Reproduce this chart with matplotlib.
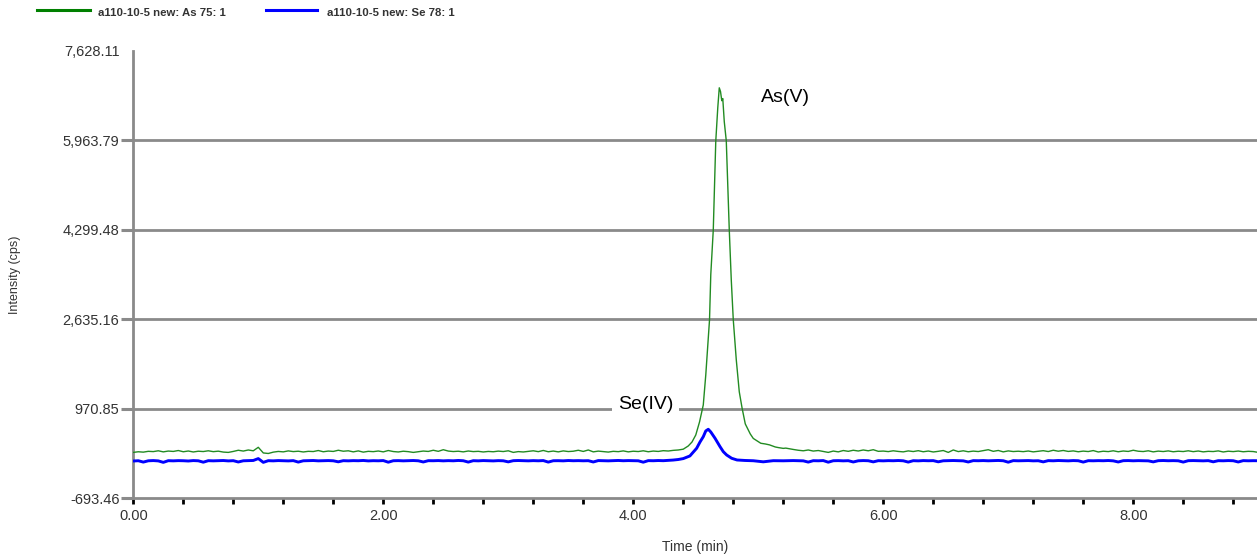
import numpy as np
import matplotlib
matplotlib.use("Agg")
import matplotlib.pyplot as plt
from matplotlib.lines import Line2D
from matplotlib.ticker import FixedLocator, MultipleLocator, FuncFormatter

plt.rcParams['font.family'] = ['Liberation Sans', 'DejaVu Sans']

# ---------------- data ----------------
series_names = ["a110-10-5 new: As 75: 1", "a110-10-5 new: Se 78: 1"]
peak_labels = ["As(V)", "Se(IV)"]
y_tick_values = [-693.46, 970.85, 2635.16, 4299.48, 5963.79, 7628.11]
y_tick_labels = ["-693.46", "970.85", "2,635.16", "4,299.48", "5,963.79", "7,628.11"]
x_label_values = [0.0, 2.0, 4.0, 6.0, 8.0]

# baseline sampling grids (min)
t_left = np.round(np.arange(0.0, 4.401, 0.04), 2)
t_right = np.round(np.arange(5.32, 9.001, 0.04), 2)

as_left = [160, 172, 165, 180, 175, 190, 170, 185, 178, 195,
           172, 186, 168, 182, 176, 190, 174, 183, 166, 160,
           178, 200, 185, 205, 190, 255, 150, 140, 165, 178,
           170, 188, 175, 182, 168, 180, 176, 195, 172, 185,
           178, 200, 182, 190, 170, 188, 165, 180, 174, 186,
           170, 195, 176, 168, 182, 174, 160, 172, 185, 178,
           200, 180, 210, 185, 176, 182, 170, 186, 175, 180,
           168, 178, 172, 184, 176, 190, 160, 175, 168, 180,
           190, 174, 196, 172, 185, 170, 188, 176, 182, 200,
           178, 205, 170, 184, 175, 166, 180, 174, 188, 170,
           182, 176, 190, 172, 185, 178, 192, 186, 198, 205,
           220]
as_peak_t = [4.44, 4.47, 4.50, 4.53, 4.56, 4.58, 4.61, 4.62, 4.64, 4.66,
             4.676, 4.688, 4.698, 4.708, 4.716, 4.728, 4.744, 4.768, 4.784, 4.80,
             4.824, 4.848, 4.87, 4.896, 4.936, 4.96, 4.992, 5.02, 5.056, 5.09,
             5.136, 5.16, 5.20, 5.22, 5.256, 5.28]
as_peak = [280, 354, 484, 726, 1042, 1600, 2627, 3465, 4297, 5950,
           6570, 6940, 6870, 6700, 6740, 6310, 5955, 4297, 3368, 2627,
           1883, 1287, 990, 690, 503, 420, 373, 330, 317, 300,
           261, 250, 235, 240, 224, 215]
as_right = [200, 190, 205, 185, 195, 178, 160, 185, 170, 195,
            180, 200, 186, 205, 190, 210, 180, 185, 175, 190,
            178, 170, 188, 176, 192, 172, 186, 168, 180, 195,
            160, 205, 175, 190, 172, 184, 176, 192, 210, 180,
            196, 170, 188, 176, 182, 174, 186, 170, 180, 192,
            176, 200, 182, 196, 178, 188, 172, 184, 176, 194,
            168, 182, 175, 190, 172, 186, 178, 200, 182, 176,
            190, 170, 184, 176, 188, 172, 182, 176, 190, 174,
            186, 170, 180, 176, 188, 168, 182, 175, 185, 172,
            180, 176, 160]

se_left = [0, 5, -20, 4, 8, 2, -25, 6, 3, 7,
           5, 0, 8, 4, -22, 6, 3, 5, 9, 2,
           6, -18, 4, 7, 10, 45, -25, 6, 3, 8,
           5, 2, 7, -20, 4, 6, 9, 3, 5, 8,
           4, -15, 6, 3, 7, 5, 10, 2, 6, 4,
           8, -22, 5, 7, 3, 6, 9, 4, -18, 6,
           5, 8, 3, 7, 4, 10, 5, -20, 6, 3,
           8, 5, 2, 7, 4, -16, 6, 9, 5, 3,
           7, 4, 8, -20, 5, 6, 3, 9, 5, 7,
           4, 6, -18, 8, 5, 3, 7, 10, 5, 8,
           6, 4, -22, 7, 5, 9, 6, 12, 18, 28,
           45]
se_peak_t = [4.453, 4.507, 4.534, 4.56, 4.58, 4.60, 4.62, 4.654, 4.694, 4.72,
             4.747, 4.787, 4.83, 4.894, 4.96, 5.04, 5.12, 5.20, 5.28]
se_peak = [94, 237, 354, 452, 559, 590, 540, 423, 267, 174,
           112, 51, 19, 10, 5, -15, 6, 4, 8]
se_right = [5, 3, -20, 6, 4, 8, -22, 5, 7, 3,
            6, -18, 4, 8, 5, -16, 6, 3, 7, 5,
            9, 4, -20, 6, 3, 8, 5, 7, -15, 4,
            6, 9, 5, 3, -18, 7, 5, 8, 4, 6,
            10, 5, -22, 7, 4, 6, 8, 3, 5, -16,
            7, 4, 9, 6, 3, 8, 5, -20, 6, 4,
            7, 5, 9, 3, -18, 6, 8, 4, 7, 5,
            3, -16, 6, 9, 5, 7, 4, -20, 6, 8,
            5, 3, 7, -15, 6, 4, 8, 5, -18, 7,
            4, 6, 5]

as_t = np.concatenate([t_left, as_peak_t, t_right])
as_y = np.concatenate([as_left, as_peak, as_right])
se_t = np.concatenate([t_left, se_peak_t, t_right])
se_y = np.concatenate([se_left, se_peak, se_right])

# ---------------- figure ----------------
W, H = 1257, 556
fig = plt.figure(figsize=(W / 100, H / 100), dpi=100)
ax = fig.add_axes([133.3 / W, 1 - 498.3 / H, (W - 133.3) / W, (498.3 - 50.8) / H])

green = '#228b22'
blue = '#0000ff'
grid_c = '#8a8a8a'
txt_c = '#333333'

ax.set_xlim(0, 8.99)
ax.set_ylim(y_tick_values[0], y_tick_values[-1])

for yv in y_tick_values[1:-1]:
    ax.axhline(yv, color=grid_c, lw=2.0, zorder=1)

ax.plot(se_t, se_y, color=blue, lw=2.1, zorder=3)
ax.plot(as_t, as_y, color=green, lw=1.0, zorder=4)

for s in ['top', 'right']:
    ax.spines[s].set_visible(False)
for s in ['left', 'bottom']:
    ax.spines[s].set_color(grid_c)
    ax.spines[s].set_linewidth(2.0)

ax.yaxis.set_major_locator(FixedLocator(y_tick_values))
ax.set_yticklabels(y_tick_labels)
ax.tick_params(axis='y', direction='out', length=9, width=2.2, color=grid_c,
               labelsize=10.5, labelcolor=txt_c, pad=1)
ax.yaxis.get_major_ticks()[-1].tick1line.set_visible(False)

ax.xaxis.set_major_locator(FixedLocator(x_label_values))
ax.xaxis.set_major_formatter(FuncFormatter(lambda v, p: f"{v:.2f}"))
ax.xaxis.set_minor_locator(MultipleLocator(0.4))
ax.tick_params(axis='x', which='both', direction='out', length=4, width=2.0,
               color='black', labelsize=10.5, labelcolor=txt_c, pad=4)

ax.set_xlabel("Time (min)", fontsize=10, color=txt_c, labelpad=12)
ax.set_ylabel("Intensity (cps)", fontsize=9, color=txt_c)
ax.yaxis.set_label_coords(-(133.3 - 21) / (W - 133.3), 0.5)

ax.text(5.02, 6760, peak_labels[0], fontsize=14, color='black', va='center', ha='left', zorder=6)
ax.text(4.10, 1050, peak_labels[1], fontsize=14, color='black', va='center', ha='center', zorder=6,
        bbox=dict(facecolor='white', edgecolor='none', pad=4))

# legend (manual)
ly = 1 - 9.5 / H
fig.add_artist(Line2D([37 / W, 90 / W], [ly, ly], color='#008000', lw=2.2))
fig.text(98 / W, 1 - 13 / H, series_names[0], fontsize=8.2, fontweight='bold', color=txt_c, va='center')
fig.add_artist(Line2D([266 / W, 317 / W], [ly, ly], color=blue, lw=2.2))
fig.text(327 / W, 1 - 13 / H, series_names[1], fontsize=8.2, fontweight='bold', color=txt_c, va='center')

fig.savefig("out.png", dpi=100)
